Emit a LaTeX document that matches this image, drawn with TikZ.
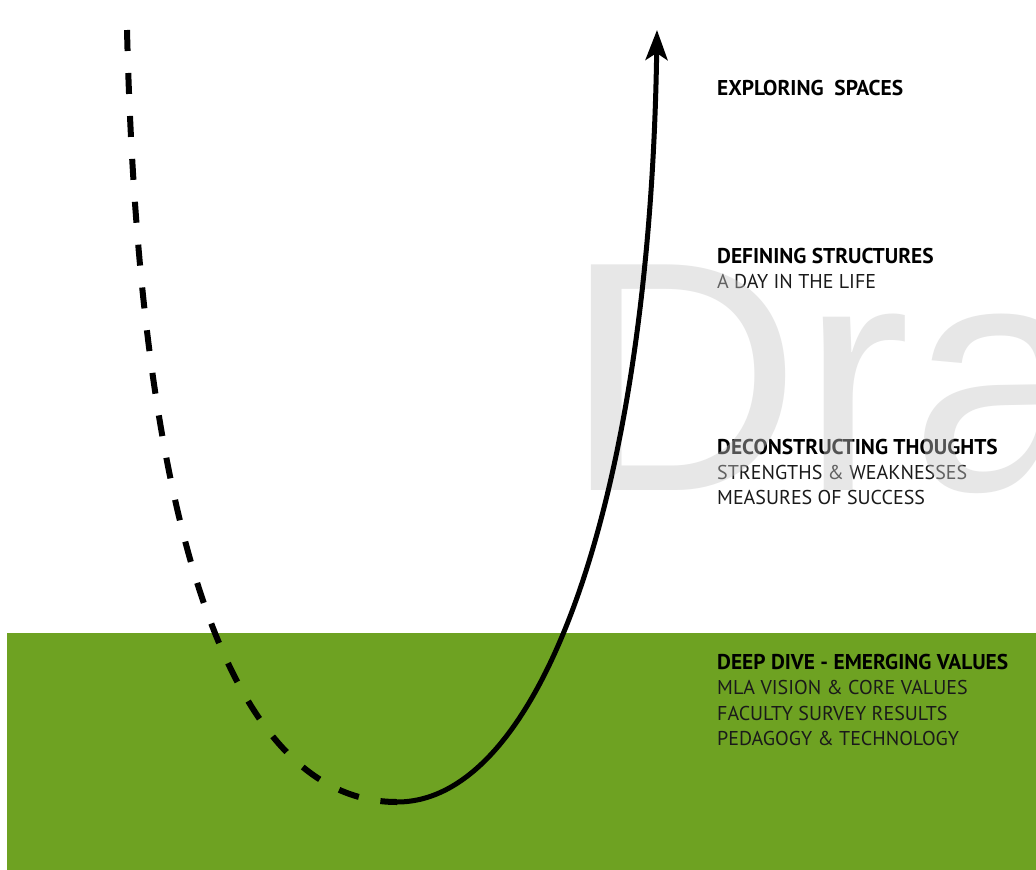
\documentclass[tikz,border=0pt]{standalone}
\usepackage{fontspec}
\setmainfont{PT Sans}
\newfontfamily\wmfont{Liberation Sans}
\usetikzlibrary{arrows.meta}
\definecolor{leaf}{HTML}{6EA222}
\definecolor{wm}{HTML}{C6C6C6}
\definecolor{txt}{HTML}{1A1A1A}
\begin{document}
\begin{tikzpicture}[x=1pt,y=-1pt,
  head/.style={anchor=base west,inner sep=0pt,font=\fontsize{21.4}{25}\selectfont\bfseries,text=black},
  sub/.style={anchor=base west,inner sep=0pt,font=\fontsize{20}{25}\selectfont,text=txt},
  curve/.style={line width=5pt,black},
  dashcurve/.style={line width=6pt,black,dash pattern=on 21pt off 22pt}]
\useasboundingbox (0,0) rectangle (1036,870);
\clip (0,0) rectangle (1036,870);
\fill[white] (0,0) rectangle (1036,870);
\fill[leaf] (7,633) rectangle (1036,870);
\node[head] (t1) at (717,95) {EXPLORING\ \ SPACES};
\node[head] (t2) at (717,263) {DEFINING STRUCTURES};
\node[sub] (t3) at (717,288) {A DAY IN THE LIFE};
\node[head] (t4) at (717,454) {DECONSTRUCTING THOUGHTS};
\node[sub] (t5) at (717,479) {STRENGTHS \& WEAKNESSES};
\node[sub] (t6) at (717,504) {MEASURES OF SUCCESS};
\node[head] (t7) at (717,669) {DEEP DIVE - EMERGING VALUES};
\node[sub] (t8) at (717,694) {MLA VISION \& CORE VALUES};
\node[sub] (t9) at (717,720) {FACULTY SURVEY RESULTS};
\node[sub] (t10) at (717,745) {PEDAGOGY \& TECHNOLOGY};
\node[anchor=base west,inner sep=0pt,text=wm,text opacity=0.42,font=\wmfont\fontsize{328}{328}\selectfont] (wmark) at (564,490) {Dra};
\coordinate (dstart) at (127,30);
\coordinate (bottom) at (397,802);
\coordinate (top) at (657,30);
\draw[dashcurve] (dstart) .. controls (140,560) and (240,802) .. (bottom);
\draw[curve,-{Stealth[length=30pt,width=22pt,inset=7pt]}] (bottom) .. controls (540,802) and (650,500) .. (top);
\end{tikzpicture}
\end{document}
